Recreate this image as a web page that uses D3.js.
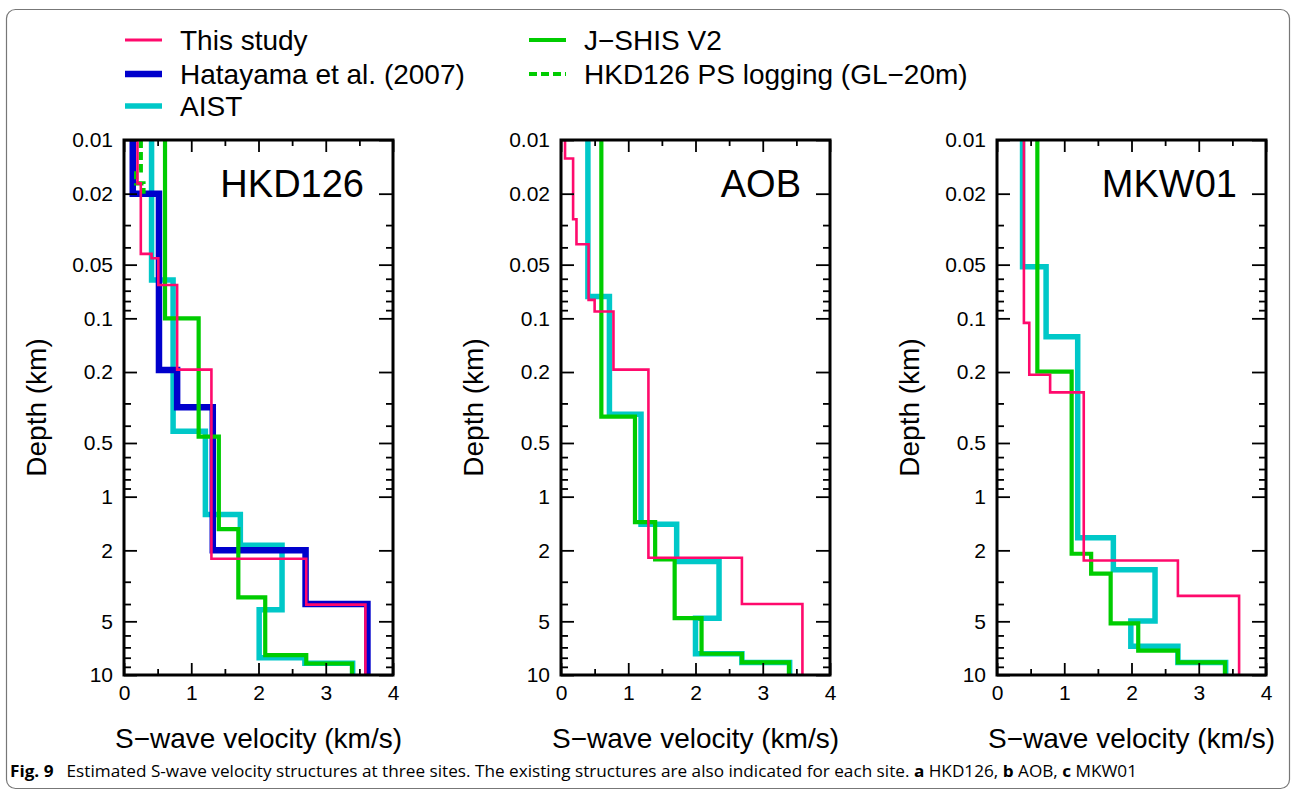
<!DOCTYPE html>
<html lang="en">
<head>
<meta charset="UTF-8">
<title>S-wave velocity structures</title>
<script src="https://d3js.org/d3.v7.min.js"></script>
<style>
  body { margin: 0; background: #fff; }
  svg { display: block; }
  text { font-family: "Liberation Sans", Arial, sans-serif; fill: #000; }
</style>
</head>
<body>
<svg width="1292" height="792"></svg>
<script>
// axis ticks
const depthMajor = [0.01, 0.02, 0.05, 0.1, 0.2, 0.5, 1, 2, 5, 10];
const depthMinor = [0.03, 0.04, 0.06, 0.07, 0.08, 0.09, 0.3, 0.4, 0.6, 0.7, 0.8, 0.9, 3, 4, 6, 7, 8, 9];
const velMajor = [0, 1, 2, 3, 4];
const velMinor = [0.5, 1.5, 2.5, 3.5];

// layers: [velocity km/s, bottom depth km]
const hkdThisStudy = [[0.20, 0.0175], [0.25, 0.0435], [0.41, 0.046], [0.51, 0.065], [0.79, 0.194], [1.30, 2.23], [2.71, 4.03], [3.59, 10]];
const hkdHatayama = [[0.13, 0.02], [0.52, 0.195], [0.79, 0.315], [1.32, 2.0], [2.70, 4.0], [3.62, 10]];
const hkdAist = [[0.41, 0.061], [0.73, 0.43], [1.21, 1.26], [1.73, 1.87], [2.35, 4.3], [2.01, 8.0], [2.69, 8.6], [3.40, 10]];
const hkdJshis = [[0.61, 0.1], [1.11, 0.46], [1.41, 1.52], [1.70, 3.67], [2.10, 7.74], [2.71, 8.62], [3.39, 10]];
const hkdPsLogging = [[0.25, 0.0148], [0.18, 0.0175], [0.29, 0.02]];

const aobThisStudy = [[0.06, 0.0127], [0.18, 0.0278], [0.23, 0.0384], [0.41, 0.0788], [0.50, 0.0915], [0.78, 0.194], [1.30, 2.2], [2.69, 4.0], [3.59, 10]];
const aobAist = [[0.40, 0.0755], [0.72, 0.345], [1.19, 1.43], [1.72, 2.31], [2.35, 4.8], [2.00, 7.6], [2.69, 8.5], [3.40, 10]];
const aobJshis = [[0.60, 0.356], [1.10, 1.39], [1.40, 2.25], [1.69, 4.8], [2.09, 7.6], [2.69, 8.5], [3.39, 10]];

const mkwThisStudy = [[0.40, 0.106], [0.48, 0.207], [0.79, 0.26], [1.29, 2.28], [2.69, 3.6], [3.60, 10]];
const mkwAist = [[0.38, 0.0513], [0.73, 0.127], [1.20, 1.70], [1.73, 2.57], [2.35, 4.98], [1.99, 6.9], [2.69, 8.5], [3.40, 10]];
const mkwJshis = [[0.60, 0.199], [1.11, 2.09], [1.40, 2.70], [1.69, 5.13], [2.10, 7.3], [2.69, 8.5], [3.39, 10]];

const legendLabels = ["This study", "Hatayama et al. (2007)", "AIST", "J\u2212SHIS V2", "HKD126 PS logging (GL\u221220m)"];

// line styles
const styles = {
  pink: { color: "#ff0a6c", width: 2.6 },
  blue: { color: "#0000cc", width: 6.5 },
  cyan: { color: "#00c8c8", width: 5.5 },
  green: { color: "#00cc00", width: 4.2 },
  dashed: { color: "#00cc00", width: 4.2, dash: "8,4" }
};

const panels = [
  { name: "HKD126", left: 124, series: [["cyan", hkdAist], ["blue", hkdHatayama], ["green", hkdJshis], ["dashed", hkdPsLogging], ["pink", hkdThisStudy]] },
  { name: "AOB", left: 561, series: [["cyan", aobAist], ["green", aobJshis], ["pink", aobThisStudy]] },
  { name: "MKW01", left: 997, series: [["cyan", mkwAist], ["green", mkwJshis], ["pink", mkwThisStudy]] }
];

const svg = d3.select("svg");
const pw = 269, yTop = 140, yBottom = 675;

// outer frame
svg.append("rect")
  .attr("x", 6.5).attr("y", 9.5).attr("width", 1283).attr("height", 779)
  .attr("rx", 9).attr("fill", "none").attr("stroke", "#777").attr("stroke-width", 1.2);

function stepPoints(layers) {
  const pts = [];
  let d0 = 0.01;
  layers.forEach(([v, d]) => {
    pts.push([v, d0]);
    pts.push([v, d]);
    d0 = d;
  });
  return pts;
}

panels.forEach((p, i) => {
  const x = d3.scaleLinear().domain([0, 4]).range([p.left, p.left + pw]);
  const y = d3.scaleLog().domain([0.01, 10]).range([yTop, yBottom]);
  const g = svg.append("g");

  g.append("clipPath").attr("id", "clip" + i)
    .append("rect").attr("x", p.left).attr("y", yTop).attr("width", pw).attr("height", yBottom - yTop);

  const line = d3.line().x(d => x(d[0])).y(d => y(d[1]));
  p.series.forEach(([key, layers]) => {
    const s = styles[key];
    g.append("path")
      .attr("d", line(stepPoints(layers)))
      .attr("clip-path", `url(#clip${i})`)
      .attr("fill", "none")
      .attr("stroke", s.color)
      .attr("stroke-width", s.width)
      .attr("stroke-linejoin", "miter")
      .attr("stroke-dasharray", s.dash || null);
  });

  // ticks
  const tickStyle = sel => {
    sel.select(".domain").remove();
    sel.selectAll("line").attr("stroke", "#000").attr("stroke-width", 1.8);
    sel.selectAll("text").style("font-size", "21px").attr("fill", "#000");
  };
  g.append("g").attr("transform", `translate(${p.left},0)`)
    .call(d3.axisLeft(y).tickValues(depthMajor).tickSize(-13).tickPadding(11).tickFormat(d => String(d)))
    .call(tickStyle);
  g.append("g").attr("transform", `translate(${p.left},0)`)
    .call(d3.axisLeft(y).tickValues(depthMinor).tickSize(-7).tickFormat(""))
    .call(tickStyle);
  g.append("g").attr("transform", `translate(${p.left + pw},0)`)
    .call(d3.axisRight(y).tickValues(depthMajor).tickSize(-14).tickFormat(""))
    .call(tickStyle);
  g.append("g").attr("transform", `translate(${p.left + pw},0)`)
    .call(d3.axisRight(y).tickValues(depthMinor).tickSize(-7).tickFormat(""))
    .call(tickStyle);
  g.append("g").attr("transform", `translate(0,${yBottom})`)
    .call(d3.axisBottom(x).tickValues(velMajor).tickSize(-12).tickPadding(10).tickFormat(d3.format("d")))
    .call(tickStyle);
  g.append("g").attr("transform", `translate(0,${yBottom})`)
    .call(d3.axisBottom(x).tickValues(velMinor).tickSize(-6).tickFormat(""))
    .call(tickStyle);
  g.append("g").attr("transform", `translate(0,${yTop})`)
    .call(d3.axisTop(x).tickValues(velMajor).tickSize(-12).tickFormat(""))
    .call(tickStyle);
  g.append("g").attr("transform", `translate(0,${yTop})`)
    .call(d3.axisTop(x).tickValues(velMinor).tickSize(-6).tickFormat(""))
    .call(tickStyle);

  // frame
  g.append("rect")
    .attr("x", p.left).attr("y", yTop).attr("width", pw).attr("height", yBottom - yTop)
    .attr("fill", "none").attr("stroke", "#000").attr("stroke-width", 3);

  // site label
  g.append("text")
    .attr("x", p.left + pw - 29).attr("y", 197)
    .attr("text-anchor", "end")
    .style("font-size", "38px")
    .text(p.name);

  // axis titles
  g.append("text")
    .attr("x", p.left + pw / 2).attr("y", 748)
    .attr("text-anchor", "middle")
    .style("font-size", "28px")
    .text("S\u2212wave velocity (km/s)");
  g.append("text")
    .attr("transform", `translate(${p.left - 78},${(yTop + yBottom) / 2}) rotate(-90)`)
    .attr("text-anchor", "middle")
    .style("font-size", "28px")
    .text("Depth (km)");
});

// legend
const legendKeys = ["pink", "blue", "cyan", "green", "dashed"];
const legendPos = [[125, 40], [125, 74], [125, 106], [529, 40], [529, 74]];
legendKeys.forEach((k, i) => {
  const s = styles[k];
  const [lx, ly] = legendPos[i];
  svg.append("line")
    .attr("x1", lx).attr("x2", lx + 37).attr("y1", ly).attr("y2", ly)
    .attr("stroke", s.color)
    .attr("stroke-width", k === "pink" ? 3 : s.width)
    .attr("stroke-dasharray", s.dash || null);
  svg.append("text")
    .attr("x", lx + 55).attr("y", ly + 10)
    .style("font-size", "28px")
    .text(legendLabels[i]);
});

// caption
const cap = svg.append("text")
  .attr("x", 10).attr("y", 777)
  .attr("textLength", 1127).attr("lengthAdjust", "spacingAndGlyphs")
  .style("font-family", "'Open Sans', sans-serif")
  .style("font-size", "16.5px")
  .attr("fill", "#222");
cap.append("tspan").style("font-weight", "bold").text("Fig. 9");
cap.append("tspan").text("\u2002 Estimated S-wave velocity structures at three sites. The existing structures are also indicated for each site. ");
cap.append("tspan").style("font-weight", "bold").text("a");
cap.append("tspan").text(" HKD126, ");
cap.append("tspan").style("font-weight", "bold").text("b");
cap.append("tspan").text(" AOB, ");
cap.append("tspan").style("font-weight", "bold").text("c");
cap.append("tspan").text(" MKW01");
</script>
</body>
</html>
